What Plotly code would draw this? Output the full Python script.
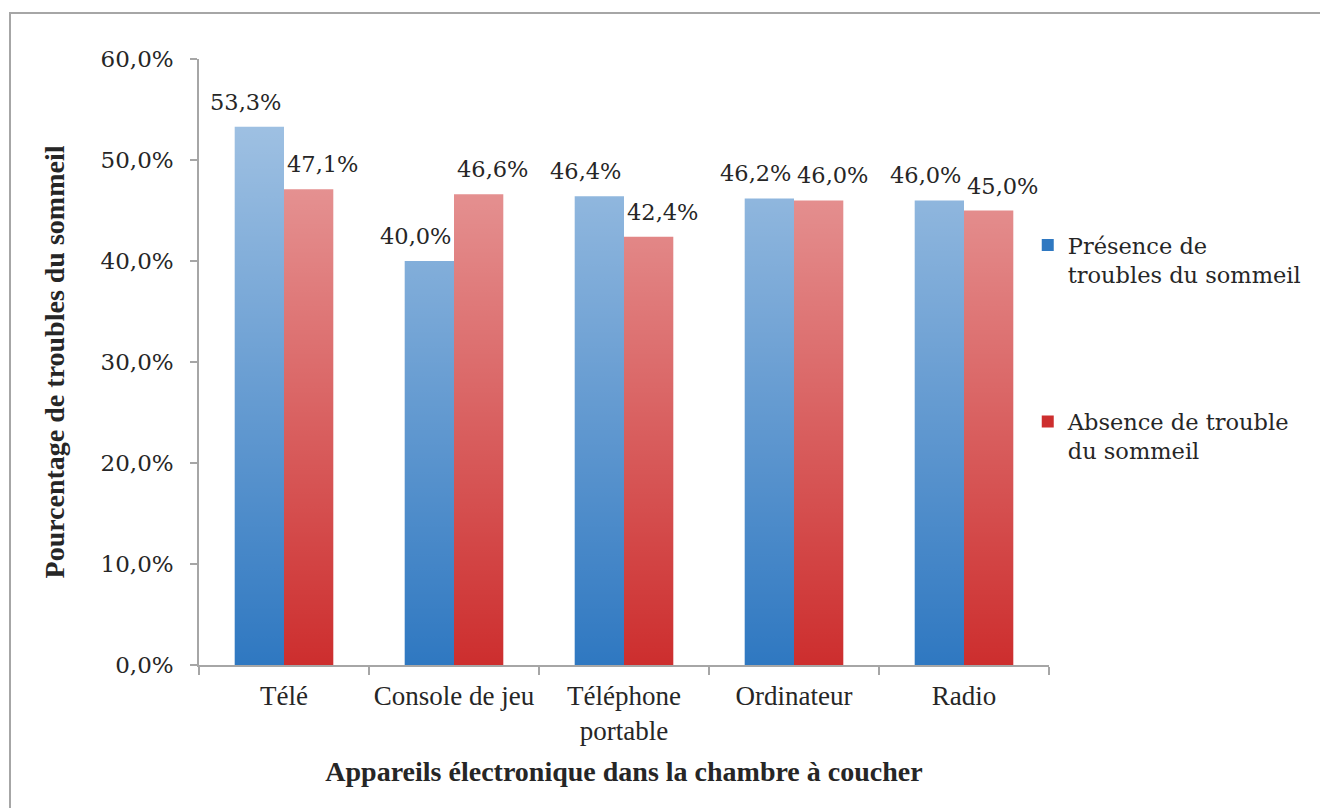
import base64
import plotly.graph_objects as go

# ---------------- data ----------------
categories = ["Télé", "Console de jeu", "Téléphone<br>portable", "Ordinateur", "Radio"]
presence = [53.3, 40.0, 46.4, 46.2, 46.0]
absence = [47.1, 46.6, 42.4, 46.0, 45.0]
series_names = ["Présence de<br>troubles du sommeil", "Absence de trouble<br>du sommeil"]
y_ticks = [0, 10, 20, 30, 40, 50, 60]
x_title = "Appareils électronique dans la chambre à coucher"
y_title = "Pourcentage de troubles du sommeil"


def fmt(v):
    return f"{v:.1f}".replace(".", ",") + "%"


# ---------------- style ----------------
BLUE = "#2f78c1"
RED = "#cd2e2e"
TEXT = "#262626"
AXIS = "#a6a6a6"
SERIF = "DejaVu Serif, Liberation Serif, serif"
NARROW = "Liberation Serif, serif"

W, H = 1320, 808
ML, MR, MT, MB = 199, 271, 59, 143
BARGAP = 0.42
PLOT_W = W - ML - MR
PLOT_H = H - MT - MB

fig = go.Figure()
for name, vals, color, grp in [(series_names[0], presence, BLUE, "a"),
                               (series_names[1], absence, RED, "b")]:
    fig.add_trace(go.Bar(
        x=categories, y=vals, name=name, legendgroup=grp,
        marker=dict(color=color, line=dict(width=0)),
        hoverinfo="skip",
    ))

# data labels as annotations (drawn above the gradient overlay)
slot = PLOT_W / len(categories)
bar_w = slot * (1 - BARGAP) / 2
nudge = 14
annotations = []
for vals, sign in [(presence, -1), (absence, 1)]:
    for cat, v in zip(categories, vals):
        annotations.append(dict(
            x=cat, y=v, xref="x", yref="y",
            text=fmt(v),
            showarrow=False, yanchor="bottom", xanchor="center",
            xshift=sign * (bar_w / 2 + nudge), yshift=10,
            font=dict(family=SERIF, size=22.5, color=TEXT),
        ))

# white vertical gradient overlay to imitate the Excel bar gradient
top_val = max(presence + absence)
svg = ("<svg xmlns='http://www.w3.org/2000/svg' width='10' height='100' viewBox='0 0 10 100' "
       "preserveAspectRatio='none'><defs><linearGradient id='g' x1='0' y1='0' x2='0' y2='1'>"
       "<stop offset='0' stop-color='#ffffff' stop-opacity='0.54'/>"
       "<stop offset='1' stop-color='#ffffff' stop-opacity='0'/>"
       "</linearGradient></defs><rect x='0' y='0' width='10' height='100' fill='url(#g)'/></svg>")
src = "data:image/svg+xml;base64," + base64.b64encode(svg.encode()).decode()

fig.update_layout(
    template="none",
    width=W, height=H,
    margin=dict(l=ML, r=MR, t=MT, b=MB, autoexpand=False),
    paper_bgcolor="white", plot_bgcolor="white",
    separators=", ",
    barmode="group", bargap=BARGAP, bargroupgap=0,
    font=dict(family=SERIF, size=22, color=TEXT),
    showlegend=True,
    legend=dict(
        x=0.975, xanchor="left", y=0.728, yanchor="top",
        font=dict(family=SERIF, size=22.5, color=TEXT),
        tracegroupgap=115, valign="top", traceorder="grouped",
        bgcolor="rgba(0,0,0,0)",
    ),
    xaxis=dict(
        type="category", showline=True, linecolor=AXIS, linewidth=1.5,
        ticks="outside", tickson="boundaries", ticklen=8, tickcolor=AXIS, tickwidth=1.5,
        showgrid=False, zeroline=False, automargin=False, tickangle=0,
        ticklabelstandoff=6,
        tickfont=dict(family=NARROW, size=27, color=TEXT),
        title=dict(text=f"<b>{x_title}</b>", standoff=16,
                   font=dict(family=NARROW, size=28, color=TEXT)),
    ),
    yaxis=dict(
        range=[0, 60], tickvals=y_ticks, ticktext=[fmt(t) for t in y_ticks],
        showline=True, linecolor=AXIS, linewidth=1.5,
        ticks="outside", ticklen=7, tickcolor=AXIS, tickwidth=1.5,
        ticklabelstandoff=12,
        showgrid=False, zeroline=False, automargin=False,
        tickfont=dict(family=SERIF, size=23, color=TEXT),
        title=dict(text=f"<b>{y_title}</b>", standoff=28,
                   font=dict(family=NARROW, size=28, color=TEXT)),
    ),
    annotations=annotations,
    images=[dict(
        source=src, xref="paper", yref="y", x=0.003, y=top_val + 0.5,
        sizex=0.997, sizey=top_val + 0.5, xanchor="left", yanchor="top",
        sizing="stretch", layer="above", opacity=1,
    )],
    shapes=[dict(
        type="rect", xref="paper", yref="paper",
        x0=(10 - ML) / PLOT_W, x1=(W + 20 - ML) / PLOT_W,
        y0=-(H + 20 - MT - PLOT_H) / PLOT_H, y1=(H - MB - 13) / PLOT_H,
        line=dict(color=AXIS, width=2), fillcolor="rgba(0,0,0,0)", layer="below",
    )],
)

fig.write_html("out.html", config={"displayModeBar": False},
               post_script="document.body.style.margin='0';")
